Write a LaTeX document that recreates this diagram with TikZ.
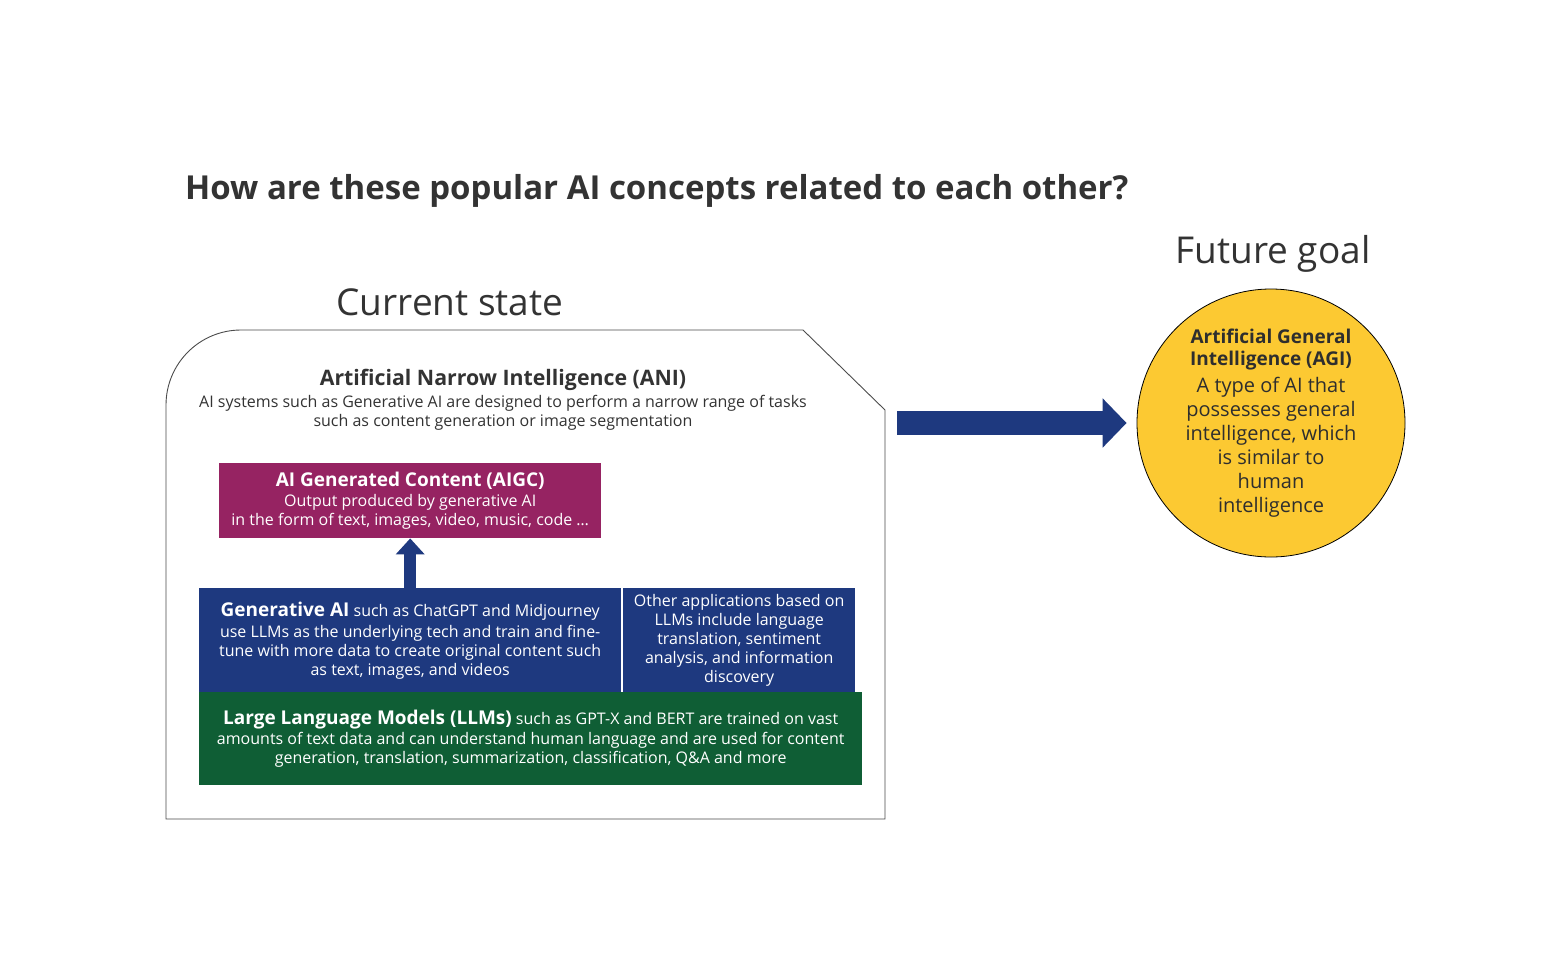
\documentclass[tikz,border=0pt]{standalone}
\usepackage{fontspec}
\setmainfont{Open Sans}
\usetikzlibrary{arrows.meta,positioning}

\definecolor{navy}{RGB}{30,57,127}
\definecolor{plum}{RGB}{150,35,98}
\definecolor{forest}{RGB}{15,94,53}
\definecolor{sun}{RGB}{252,201,50}
\definecolor{ink}{RGB}{51,51,51}

\tikzset{
  layer/.style={inner sep=0pt, align=center, text=white, anchor=north west,
    font=\fontsize{16}{19}\selectfont},
  heading/.style={font=\fontsize{37}{44}\selectfont, text=ink},
  bigarrow/.style={navy, line width=24pt, -{Triangle[width=48pt,length=24pt]}},
  smallarrow/.style={navy, line width=12pt, -{Triangle[width=28pt,length=16pt]}},
}

\begin{document}
\begin{tikzpicture}[x=1pt,y=-1pt]
    \useasboundingbox[fill=white] (0,0) rectangle (1553,977);

    % Title
    \node[anchor=west, inner sep=0pt, text=ink, font=\fontsize{33}{38}\selectfont\bfseries] (title) at (185,191)
        {How are these popular AI concepts related to each other?};

    % Headings
    \node[heading] (current) at (450,302) {Current state};
    \node[heading] (future) at (1273,254) {Future goal};

    % ANI outline (rounded top left, cut top right)
    \draw[black!70, line width=0.9pt] (166,819) -- (166,405)
        .. controls (166,363.6) and (199.6,330) .. (241,330)
        -- (803,330) -- (885,410) -- (885,819) -- cycle;
    \coordinate (ani-edge) at (897,423);

    % ANI text
    \node[align=center, text=ink, font=\fontsize{16}{19}\selectfont] (ani) at (503,399.5)
        {{\fontsize{21.3}{23}\selectfont\bfseries Artificial Narrow Intelligence (ANI)}\\[3pt]
         AI systems such as Generative AI are designed to perform a narrow range of tasks\\
         such as content generation or image segmentation};

    % Layers
    \node[layer, fill=plum, minimum width=382pt, minimum height=75pt] (aigc) at (219,463)
        {{\fontsize{19}{22}\selectfont\bfseries AI Generated Content (AIGC)}\\[1pt]
         Output produced by generative AI\\
         in the form of text, images, video, music, code \dots};
    \node[layer, fill=navy, minimum width=422pt, minimum height=104pt] (gen) at (199,588)
        {{\fontsize{19}{22}\selectfont\bfseries Generative AI} such as ChatGPT and Midjourney\\[2pt]
         use LLMs as the underlying tech and train and fine-\\
         tune with more data to create original content such\\
         as text, images, and videos};
    \node[layer, fill=navy, minimum width=232pt, minimum height=104pt] (other) at (623,588)
        {Other applications based on\\
         LLMs include language\\
         translation, sentiment\\
         analysis, and information\\
         discovery};
    \node[layer, fill=forest, minimum width=663pt, minimum height=93pt] (llm) at (199,692)
        {{\fontsize{19}{22}\selectfont\bfseries Large Language Models (LLMs)} such as GPT-X and BERT are trained on vast\\[1pt]
         amounts of text data and can understand human language and are used for content\\
         generation, translation, summarization, classification, Q\&A and more};

    % AGI circle
    \node[circle, draw=black, line width=0.8pt, fill=sun, minimum size=268pt, inner sep=0pt,
          align=center, text=ink!90!black, font=\fontsize{20}{24}\selectfont] (agi) at (1271,423)
        {{\fontsize{19}{22}\selectfont\bfseries Artificial General}\\[-2pt]
         {\fontsize{19}{22}\selectfont\bfseries Intelligence (AGI)}\\[3pt]
         A type of AI that\\
         possesses general\\
         intelligence, which\\
         is similar to\\
         human\\
         intelligence};

    % Arrows
    \draw[smallarrow] (gen.north) -- (aigc.south);
    \draw[bigarrow] (ani-edge) -- ([xshift=-10pt]agi.west);
\end{tikzpicture}
\end{document}
